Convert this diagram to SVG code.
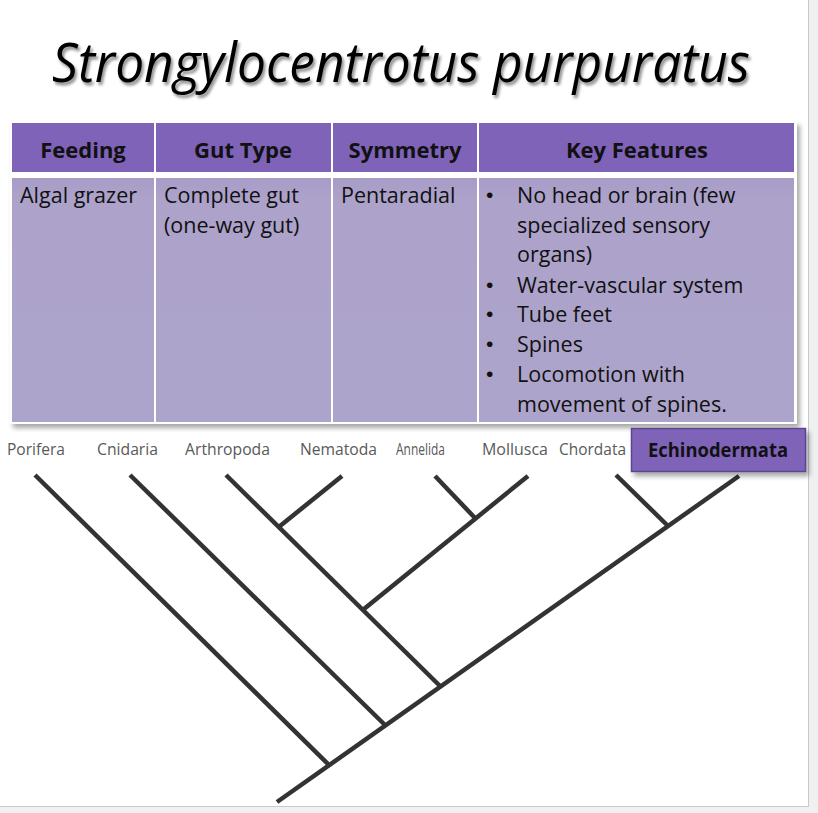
<svg xmlns="http://www.w3.org/2000/svg" width="818" height="813" viewBox="0 0 818 813">
<defs>
<filter id="tshadow" x="-5%" y="-20%" width="110%" height="150%">
<feGaussianBlur in="SourceAlpha" stdDeviation="1.5"/>
<feOffset dx="2" dy="3" result="b"/>
<feComponentTransfer><feFuncA type="linear" slope="0.45"/></feComponentTransfer>
<feMerge><feMergeNode/><feMergeNode in="SourceGraphic"/></feMerge>
</filter>
<filter id="boxshadow" x="-10%" y="-10%" width="120%" height="130%">
<feGaussianBlur in="SourceAlpha" stdDeviation="2.5"/>
<feOffset dx="3" dy="4" result="b"/>
<feComponentTransfer><feFuncA type="linear" slope="0.35"/></feComponentTransfer>
<feMerge><feMergeNode/><feMergeNode in="SourceGraphic"/></feMerge>
</filter>
<linearGradient id="bodyg" x1="0" y1="0" x2="0" y2="1">
<stop offset="0" stop-color="#A79CC6"/>
<stop offset="0.08" stop-color="#ACA2CA"/>
<stop offset="1" stop-color="#ADA4CB"/>
</linearGradient>
</defs>
<style>
.hdr{fill:#7E63B8}
.body{fill:url(#bodyg)}
.ht{font-family:"Open Sans","Liberation Sans",sans-serif;font-weight:bold;font-size:22px;fill:#111;text-anchor:middle}
.bt{font-family:"Open Sans","Liberation Sans",sans-serif;font-size:21.5px;fill:#111}
.bul{font-family:"Liberation Sans",sans-serif;font-size:21px;fill:#111}
.lbl{font-family:"Open Sans","Liberation Sans",sans-serif;font-size:15.5px;fill:#595959}
.br{stroke:#333;stroke-width:4.5;stroke-linecap:butt;fill:none}
</style>
<rect x="0" y="0" width="818" height="813" fill="#ffffff"/>
<rect x="809" y="0" width="9" height="813" fill="#f0f0f0"/>
<rect x="0" y="807" width="818" height="6" fill="#f0f0f0"/>
<line x1="808.5" y1="0" x2="808.5" y2="807" stroke="#c9c9d2" stroke-width="1"/>
<line x1="0" y1="806.5" x2="809" y2="806.5" stroke="#c9c9d2" stroke-width="1"/>

<g id="title">
<text x="401" y="82" text-anchor="middle" font-family="'Open Sans','Liberation Sans',sans-serif" font-style="italic" font-size="54" fill="#000" textLength="698" lengthAdjust="spacingAndGlyphs" filter="url(#tshadow)">Strongylocentrotus purpuratus</text>
</g>

<g id="table" filter="url(#boxshadow)">
<rect x="10" y="121" width="787" height="303" fill="#ffffff"/>
<rect class="hdr" x="12" y="123" width="142" height="49"/>
<rect class="hdr" x="156" y="123" width="175" height="49"/>
<rect class="hdr" x="333" y="123" width="144" height="49"/>
<rect class="hdr" x="479" y="123" width="315" height="49"/>
<rect class="body" x="12" y="178" width="142" height="244"/>
<rect class="body" x="156" y="178" width="175" height="244"/>
<rect class="body" x="333" y="178" width="144" height="244"/>
<rect class="body" x="479" y="178" width="315" height="244"/>
</g>
<g id="table-text">
<text class="ht" x="83" y="158">Feeding</text>
<text class="ht" x="243" y="158">Gut Type</text>
<text class="ht" x="405" y="158">Symmetry</text>
<text class="ht" x="637" y="158">Key Features</text>
<text class="bt" x="20" y="203">Algal grazer</text>
<text class="bt" x="164" y="203">Complete gut</text>
<text class="bt" x="164" y="233">(one-way gut)</text>
<text class="bt" x="341" y="203">Pentaradial</text>
<text class="bul" x="486" y="202">•</text>
<text class="bt" x="517" y="203">No head or brain (few</text>
<text class="bt" x="517" y="233">specialized sensory</text>
<text class="bt" x="517" y="262">organs)</text>
<text class="bul" x="486" y="292">•</text>
<text class="bt" x="517" y="293">Water-vascular system</text>
<text class="bul" x="486" y="321">•</text>
<text class="bt" x="517" y="322">Tube feet</text>
<text class="bul" x="486" y="351">•</text>
<text class="bt" x="517" y="352">Spines</text>
<text class="bul" x="486" y="381">•</text>
<text class="bt" x="517" y="382">Locomotion with</text>
<text class="bt" x="517" y="412">movement of spines.</text>
</g>

<g id="connectors">
<line class="br" x1="277" y1="802" x2="739" y2="476"/>
<line class="br" x1="35" y1="475" x2="330" y2="766"/>
<line class="br" x1="130" y1="475" x2="386" y2="726"/>
<line class="br" x1="226" y1="475" x2="441" y2="687"/>
<line class="br" x1="342" y1="476" x2="280" y2="526"/>
<line class="br" x1="364" y1="609" x2="528" y2="476"/>
<line class="br" x1="435" y1="476" x2="475" y2="518"/>
<line class="br" x1="616" y1="475" x2="667" y2="525"/>
</g>

<g id="node-porifera"><text class="lbl" x="7" y="455" textLength="58" lengthAdjust="spacingAndGlyphs">Porifera</text></g>
<g id="node-cnidaria"><text class="lbl" x="97" y="455" textLength="61" lengthAdjust="spacingAndGlyphs">Cnidaria</text></g>
<g id="node-arthropoda"><text class="lbl" x="185" y="455" textLength="85" lengthAdjust="spacingAndGlyphs">Arthropoda</text></g>
<g id="node-nematoda"><text class="lbl" x="300" y="455" textLength="77" lengthAdjust="spacingAndGlyphs">Nematoda</text></g>
<g id="node-annelida"><text class="lbl" x="396" y="455" textLength="49" lengthAdjust="spacingAndGlyphs">Annelida</text></g>
<g id="node-mollusca"><text class="lbl" x="482" y="455" textLength="66" lengthAdjust="spacingAndGlyphs">Mollusca</text></g>
<g id="node-chordata"><text class="lbl" x="559" y="455" textLength="67" lengthAdjust="spacingAndGlyphs">Chordata</text></g>
<g id="node-echinodermata">
<rect x="631.5" y="428.5" width="174" height="43" fill="#7E63B8" stroke="#5B4590" stroke-width="1.5" filter="url(#boxshadow)"/>
<text x="648" y="457" font-family="'Open Sans','Liberation Sans',sans-serif" font-weight="bold" font-size="19" fill="#111" textLength="140" lengthAdjust="spacingAndGlyphs">Echinodermata</text>
</g>
</svg>
